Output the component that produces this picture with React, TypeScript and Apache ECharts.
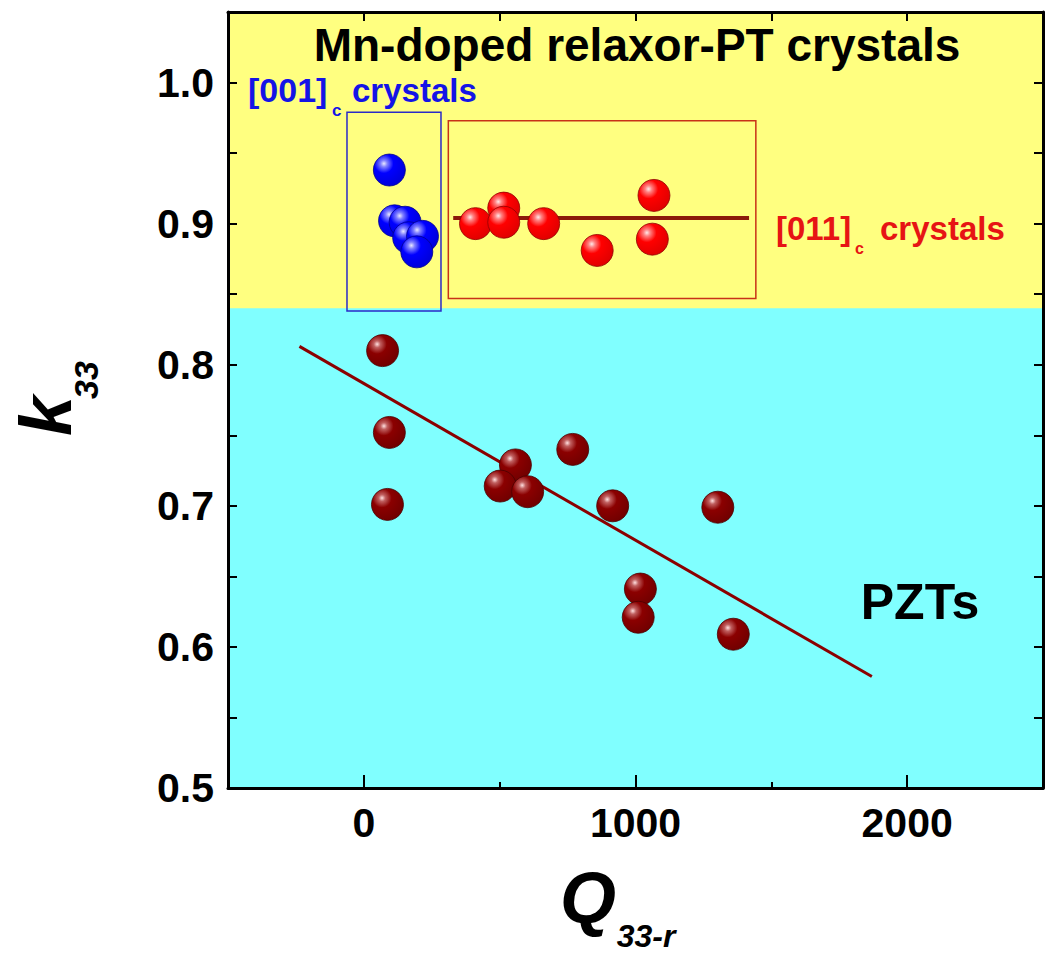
import React, { useEffect, useRef } from "react";
import * as echarts from "echarts";

// ---- data ----
const blueX = [94, 113, 152, 165, 216, 195];
const blueY = [0.938, 0.902, 0.901, 0.89, 0.891, 0.88];

const redX = [411, 515, 515, 662, 859, 1068, 1062];
const redY = [0.9, 0.911, 0.901, 0.9, 0.881, 0.92, 0.889];

const pztX = [69, 94, 87, 558, 502, 603, 769, 916, 1303, 1018, 1010, 1360];
const pztY = [0.81, 0.752, 0.701, 0.729, 0.714, 0.71, 0.74, 0.7, 0.699, 0.641, 0.621, 0.609];

const pztFitX = [-237, 1870];
const pztFitY = [0.813, 0.579];

const redFitX = [329, 1418];
const redFitY = [0.904, 0.904];

const blueBoxX = [-62, 284];
const blueBoxY = [0.838, 0.979];
const redBoxX = [311, 1443];
const redBoxY = [0.847, 0.973];

const bandSplit = 0.84;
const xMin = -500;
const xMax = 2500;
const yMin = 0.5;
const yMax = 1.05;
const xMajorTicks = [0, 1000, 2000];

const FONT = "'Liberation Sans', Arial, sans-serif";

function ball(light: string, mid: string, main: string, dark: string) {
  return new echarts.graphic.RadialGradient(0.33, 0.3, 0.75, [
    { offset: 0, color: light },
    { offset: 0.14, color: mid },
    { offset: 0.4, color: main },
    { offset: 1, color: dark },
  ]);
}

export default function App() {
  const ref = useRef<HTMLDivElement>(null);
  useEffect(() => {
    const chart = echarts.init(ref.current!, null, { renderer: "svg" });
    const axisLine = { show: true, onZero: false, lineStyle: { color: "#000", width: 3 } };
    const tick = { show: true, inside: true, length: 9, lineStyle: { color: "#000", width: 2 } };
    const xFmt = (v: number) => (Math.round(v) % 1000 === 0 ? String(Math.round(v)) : "");
    const yFmt = (v: number) => (Math.round(v * 100) % 10 === 0 ? v.toFixed(1) : "");
    const labelStyle = { fontSize: 41, fontWeight: "bold", color: "#000", fontFamily: FONT };

    const option: any = {
      animation: false,
      textStyle: { fontFamily: FONT },
      grid: {
        left: 228,
        right: 7,
        top: 12,
        bottom: 167,
        show: true,
        backgroundColor: "#80FFFF",
        borderWidth: 0,
      },
      xAxis: [
        {
          type: "value", position: "bottom", min: xMin, max: xMax, interval: 500, z: 10,
          axisLine, axisTick: { ...tick, length: 6 }, splitLine: { show: false },
          axisLabel: { ...labelStyle, formatter: xFmt, margin: 14 },
        },
        {
          type: "value", position: "top", min: xMin, max: xMax, interval: 500, z: 10,
          axisLine, axisTick: tick, splitLine: { show: false }, axisLabel: { show: false },
        },
        {
          type: "value", position: "bottom", min: xMin, max: xMax, z: 11,
          axisLine: { show: false, onZero: false },
          axisTick: { show: true, inside: true, length: 13, customValues: xMajorTicks, lineStyle: { color: "#000", width: 2 } },
          splitLine: { show: false }, axisLabel: { show: false },
        },
      ],
      yAxis: [
        {
          type: "value", position: "left", min: yMin, max: yMax, interval: 0.05, z: 10,
          axisLine, axisTick: tick, splitLine: { show: false },
          axisLabel: { ...labelStyle, formatter: yFmt, margin: 14 },
        },
        {
          type: "value", position: "right", min: yMin, max: yMax, interval: 0.05, z: 10,
          axisLine, axisTick: tick, splitLine: { show: false }, axisLabel: { show: false },
        },
      ],
      series: [
        {
          type: "line", data: [], z: 1, silent: true,
          markArea: {
            silent: true,
            itemStyle: { color: "#FFFF80" },
            data: [[{ coord: [xMin, yMax] }, { coord: [xMax, bandSplit] }]],
          },
        },
        {
          type: "line", data: [], z: 2, silent: true,
          markArea: {
            silent: true,
            data: [
              [
                { coord: [blueBoxX[0], blueBoxY[1]], itemStyle: { color: "rgba(0,0,0,0)", borderColor: "#2a2ac8", borderWidth: 1.5 } },
                { coord: [blueBoxX[1], blueBoxY[0]] },
              ],
              [
                { coord: [redBoxX[0], redBoxY[1]], itemStyle: { color: "rgba(0,0,0,0)", borderColor: "#c83218", borderWidth: 1.5 } },
                { coord: [redBoxX[1], redBoxY[0]] },
              ],
            ],
          },
        },
        {
          type: "line", z: 3, symbol: "none", silent: true,
          data: pztFitX.map((x, i) => [x, pztFitY[i]]),
          lineStyle: { color: "#8B0000", width: 3 },
        },
        {
          type: "line", z: 3, symbol: "none", silent: true,
          data: redFitX.map((x, i) => [x, redFitY[i]]),
          lineStyle: { color: "#8B1A0A", width: 4 },
        },
        {
          type: "scatter", z: 4, symbol: "circle", symbolSize: 32,
          data: pztX.map((x, i) => [x, pztY[i]]),
          itemStyle: { color: ball("#ffe0e0", "#c06060", "#8B0000", "#700000"), borderColor: "#4a0000", borderWidth: 0.8, opacity: 1 },
        },
        {
          type: "scatter", z: 4, symbol: "circle", symbolSize: 32,
          data: redX.map((x, i) => [x, redY[i]]),
          itemStyle: { color: ball("#ffe8e8", "#ff8080", "#ff0000", "#e00000"), borderColor: "#900000", borderWidth: 0.8, opacity: 1 },
        },
        {
          type: "scatter", z: 4, symbol: "circle", symbolSize: 32,
          data: blueX.map((x, i) => [x, blueY[i]]),
          itemStyle: { color: ball("#e8e8ff", "#8080ff", "#0000ff", "#0000d8"), borderColor: "#000090", borderWidth: 0.8, opacity: 1 },
        },
      ],
      graphic: [
        {
          type: "text", x: 637, y: 45, z: 20,
          style: { text: "Mn-doped relaxor-PT crystals", fontSize: 46, fontWeight: "bold", fill: "#000", fontFamily: FONT, align: "center", verticalAlign: "middle" },
        },
        { type: "text", x: 248, y: 90, z: 20, style: { text: "[001]", fontSize: 34, fontWeight: "bold", fill: "#1414e6", fontFamily: FONT, align: "left", verticalAlign: "middle" } },
        { type: "text", x: 332, y: 110, z: 20, style: { text: "c", fontSize: 17, fontWeight: "bold", fill: "#1414e6", fontFamily: FONT, align: "left", verticalAlign: "middle" } },
        { type: "text", x: 352, y: 90, z: 20, style: { text: "crystals", fontSize: 33, fontWeight: "bold", fill: "#1414e6", fontFamily: FONT, align: "left", verticalAlign: "middle" } },
        { type: "text", x: 776, y: 228, z: 20, style: { text: "[011]", fontSize: 33, fontWeight: "bold", fill: "#e61414", fontFamily: FONT, align: "left", verticalAlign: "middle" } },
        { type: "text", x: 855, y: 248, z: 20, style: { text: "c", fontSize: 16, fontWeight: "bold", fill: "#e61414", fontFamily: FONT, align: "left", verticalAlign: "middle" } },
        { type: "text", x: 880, y: 228, z: 20, style: { text: "crystals", fontSize: 33, fontWeight: "bold", fill: "#e61414", fontFamily: FONT, align: "left", verticalAlign: "middle" } },
        { type: "text", x: 920, y: 602, z: 20, style: { text: "PZTs", fontSize: 50, fontWeight: "bold", fill: "#000", fontFamily: FONT, align: "center", verticalAlign: "middle" } },
        { type: "text", x: 46, y: 416, z: 20, rotation: Math.PI / 2, style: { text: "k", fontSize: 72, fontWeight: "bold", fontStyle: "italic", fill: "#000", fontFamily: FONT, align: "center", verticalAlign: "middle" } },
        { type: "text", x: 86, y: 380, z: 20, rotation: Math.PI / 2, style: { text: "33", fontSize: 34, fontWeight: "bold", fontStyle: "italic", fill: "#000", fontFamily: FONT, align: "center", verticalAlign: "middle" } },
        { type: "text", x: 588, y: 898, z: 20, style: { text: "Q", fontSize: 72, fontWeight: "bold", fontStyle: "italic", fill: "#000", fontFamily: FONT, align: "center", verticalAlign: "middle" } },
        { type: "text", x: 646, y: 936, z: 20, style: { text: "33-r", fontSize: 32, fontWeight: "bold", fontStyle: "italic", fill: "#000", fontFamily: FONT, align: "center", verticalAlign: "middle" } },
      ],
    };
    chart.setOption(option);
    return () => chart.dispose();
  }, []);
  return <div ref={ref} style={{ position: "absolute", left: 0, top: 0, width: 1050, height: 955 }} />;
}
